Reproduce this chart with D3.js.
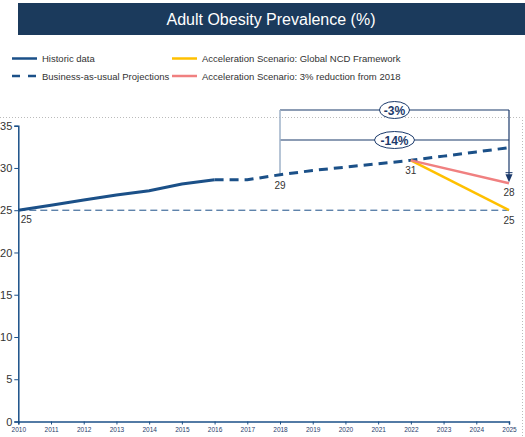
<!DOCTYPE html>
<html>
<head>
<meta charset="utf-8">
<script src="https://cdn.jsdelivr.net/npm/d3@7"></script>
<style>
  body { margin: 0; background: #fff; }
  svg { display: block; font-family: "Liberation Sans", Arial, sans-serif; }
</style>
</head>
<body>
<div id="chart"></div>
<script>
// données
const years = d3.range(2010, 2026);
const historic = [[2010, 25.0], [2011, 25.6], [2012, 26.2], [2013, 26.8], [2014, 27.3], [2015, 28.1], [2016, 28.6]];
const bau = [[2016, 28.6], [2017, 28.6], [2018, 29.2], [2019, 29.7], [2020, 30.1], [2021, 30.5], [2022, 30.9], [2023, 31.4], [2024, 31.9], [2025, 32.4]];
const ncd = [[2022, 30.9], [2025, 25.0]];
const reduction = [[2022, 30.9], [2025, 28.2]];
const target = [[2010, 25], [2025, 25]];
const yTicks = [0, 5, 10, 15, 20, 25, 30, 35];
const pointLabels = [
  { year: 2010, value: 25, text: "25", dx: 8, dy: 13 },
  { year: 2018, value: 29.2, text: "29", dx: 0, dy: 14 },
  { year: 2022, value: 30.9, text: "31", dx: 0, dy: 14 },
  { year: 2025, value: 28.2, text: "28", dx: 0, dy: 13 },
  { year: 2025, value: 25.0, text: "25", dx: 0, dy: 14 }
];
const brackets = [
  { from: 2018, to: 2025, label: "-3%", yPos: 110, rx: 15 },
  { from: 2018, to: 2025, label: "-14%", yPos: 140, rx: 20 }
];
const legendItems = [
  { label: "Historic data", color: "#1b5088", dash: null, col: 0, row: 0 },
  { label: "Business-as-usual Projections", color: "#1b5088", dash: "8,8", col: 0, row: 1 },
  { label: "Acceleration Scenario: Global NCD Framework", color: "#ffc000", dash: null, col: 1, row: 0 },
  { label: "Acceleration Scenario: 3% reduction from 2018", color: "#f08080", dash: null, col: 1, row: 1 }
];

const width = 525, height = 437;
const navy = "#1b5088";

const svg = d3.select("#chart").append("svg")
  .attr("width", width).attr("height", height);

// bandeau du titre
svg.append("rect").attr("x", 18).attr("y", 3).attr("width", 507).attr("height", 32).attr("fill", "#1b3a5c");
svg.append("text").attr("x", 271).attr("y", 25).attr("text-anchor", "middle")
  .attr("fill", "#fff").attr("font-size", 16).text("Adult Obesity Prevalence (%)");

// légende
const lg = svg.append("g");
legendItems.forEach(d => {
  const x0 = d.col === 0 ? 12 : 172;
  const yy = d.row === 0 ? 58.5 : 76;
  lg.append("line").attr("x1", x0).attr("x2", x0 + 25).attr("y1", yy).attr("y2", yy)
    .attr("stroke", d.color).attr("stroke-width", 2.5)
    .attr("stroke-dasharray", d.dash);
  lg.append("text").attr("x", x0 + 30).attr("y", yy + 3.5)
    .attr("font-size", 9.5).attr("fill", "#333").text(d.label);
});

// cadre pointillé
svg.append("path").attr("d", "M0,117.5H522.5V437")
  .attr("fill", "none").attr("stroke", "#bbb").attr("stroke-dasharray", "1,2");

const xScale = d3.scaleLinear().domain([2010, 2025]).range([18.3, 509]);
const yScale = d3.scaleLinear().domain([0, 35]).range([421.5, 125.7]);

// axes
const yAxis = d3.axisLeft(yScale).tickValues(yTicks).tickSize(4).tickPadding(2);
const gy = svg.append("g").attr("transform", `translate(${xScale(2010)},0)`).call(yAxis);
gy.select(".domain").attr("stroke", navy).attr("stroke-width", 1.5);
gy.selectAll(".tick line").attr("stroke", navy);
gy.selectAll(".tick text").attr("font-size", 11).attr("fill", "#333").attr("font-family", "Liberation Sans, Arial");

const xAxis = d3.axisBottom(xScale).tickValues(years).tickFormat(d3.format("d")).tickSize(3).tickPadding(3);
const gx = svg.append("g").attr("transform", `translate(0,${yScale(0)})`).call(xAxis);
gx.select(".domain").attr("stroke", navy).attr("stroke-width", 1.5);
gx.selectAll(".tick line").attr("stroke", navy);
gx.selectAll(".tick text").attr("font-size", 6.5).attr("fill", "#1f3d6b").attr("font-family", "Liberation Sans, Arial");

const line = d3.line().x(d => xScale(d[0])).y(d => yScale(d[1]));

// ligne cible 25
svg.append("path").datum(target).attr("d", line).attr("fill", "none")
  .attr("stroke", navy).attr("stroke-width", 1).attr("stroke-dasharray", "7,4");

// crochets d'annotation
brackets.forEach(b => {
  const x1 = xScale(b.from), x2 = xScale(b.to);
  svg.append("line").attr("x1", x1).attr("x2", x2).attr("y1", b.yPos).attr("y2", b.yPos)
    .attr("stroke", "#1b3a6b").attr("stroke-width", 1.2);
});
const bTop = d3.min(brackets, b => b.yPos);
svg.append("line").attr("x1", xScale(2018)).attr("x2", xScale(2018))
  .attr("y1", bTop).attr("y2", yScale(29.2) - 1)
  .attr("stroke", "#9fb2c9").attr("stroke-width", 1.5);
svg.append("line").attr("x1", xScale(2025)).attr("x2", xScale(2025))
  .attr("y1", bTop).attr("y2", yScale(28.2) - 6)
  .attr("stroke", "#1b3a6b").attr("stroke-width", 1.2);
const ax = xScale(2025), ay = yScale(28.2);
svg.append("path").attr("d", `M${ax - 3.5},${ay - 9}L${ax + 3.5},${ay - 9}L${ax},${ay - 1}Z`).attr("fill", "#1b3a6b");
svg.append("line").attr("x1", ax - 3.5).attr("x2", ax + 3.5).attr("y1", ay - 10.5).attr("y2", ay - 10.5)
  .attr("stroke", "#1b3a6b").attr("stroke-width", 1);

// séries
svg.append("path").datum(historic).attr("d", line).attr("fill", "none")
  .attr("stroke", navy).attr("stroke-width", 3);
svg.append("path").datum(bau).attr("d", line).attr("fill", "none")
  .attr("stroke", navy).attr("stroke-width", 3).attr("stroke-dasharray", "9,6");
svg.append("path").datum(ncd).attr("d", line).attr("fill", "none")
  .attr("stroke", "#ffc000").attr("stroke-width", 2.5);
svg.append("path").datum(reduction).attr("d", line).attr("fill", "none")
  .attr("stroke", "#f08080").attr("stroke-width", 2.5);

// ellipses des crochets
brackets.forEach(b => {
  const cx = (xScale(b.from) + xScale(b.to)) / 2;
  svg.append("ellipse").attr("cx", cx).attr("cy", b.yPos).attr("rx", b.rx).attr("ry", 8.5)
    .attr("fill", "#fff").attr("stroke", "#1b3a6b").attr("stroke-width", 1);
  svg.append("text").attr("x", cx).attr("y", b.yPos + 4.5).attr("text-anchor", "middle")
    .attr("font-size", 12).attr("font-weight", "bold").attr("fill", "#1b3a6b").text(b.label);
});

// étiquettes de valeurs
svg.selectAll(".plabel").data(pointLabels).join("text")
  .attr("class", "plabel")
  .attr("x", d => xScale(d.year) + d.dx)
  .attr("y", d => yScale(d.value) + d.dy)
  .attr("text-anchor", "middle").attr("font-size", 10).attr("fill", "#333")
  .text(d => d.text);
</script>
</body>
</html>
